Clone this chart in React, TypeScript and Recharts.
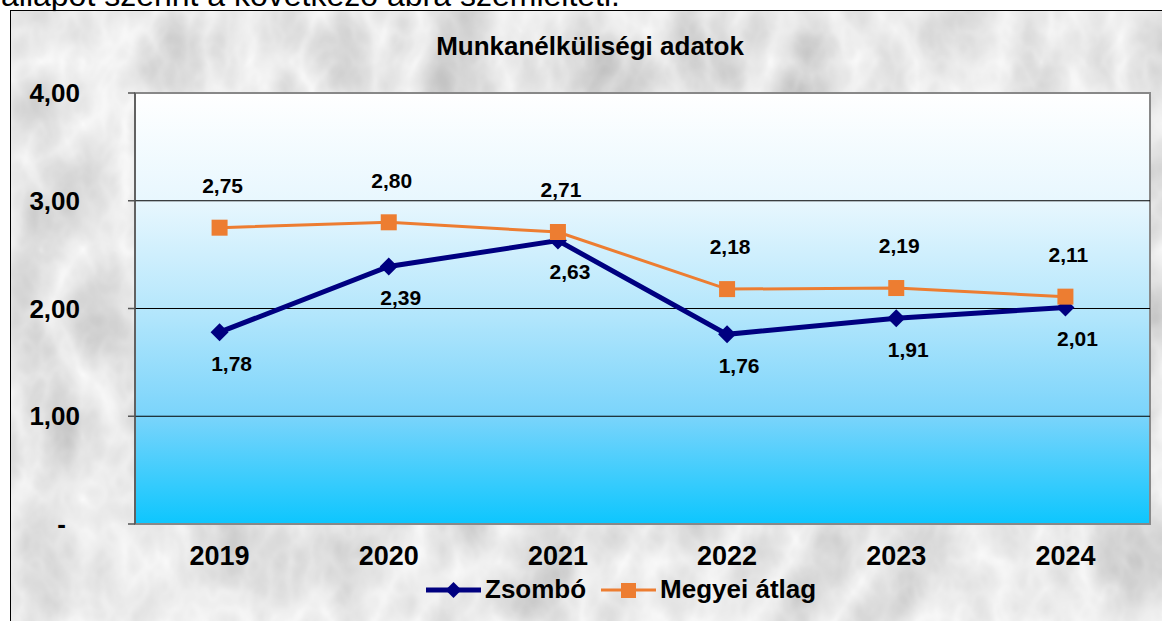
import React from 'react';
import {
  LineChart,
  Line,
  XAxis,
  YAxis,
  ReferenceArea,
  ReferenceLine,
  LabelList,
  Legend,
} from 'recharts';

const years = ['2019', '2020', '2021', '2022', '2023', '2024'];
const zsombo = [1.78, 2.39, 2.63, 1.76, 1.91, 2.01];
const megyei = [2.75, 2.8, 2.71, 2.18, 2.19, 2.11];
const yTicks = [0, 1, 2, 3, 4];
const gridValues = [1, 2, 3];
const seriesOrder = ['zsombo', 'megyei'];

const data = years.map((year, i) => ({
  pos: i + 0.5,
  year,
  zsombo: zsombo[i],
  megyei: megyei[i],
}));
const yearTicks = data.map((d) => d.pos);
const edgeTicks = Array.from({ length: years.length + 1 }, (_, i) => i);

const FONT = '"Liberation Sans", Arial, sans-serif';
const NAVY = '#000080';
const ORANGE = '#ED7D31';
const AXIS = '#555555';

const fmt = (v: number) => v.toFixed(2).replace('.', ',');

const YTick = (props: any) => {
  const { x, y, payload } = props;
  const v = payload.value as number;
  return (
    <text
      x={v === 0 ? x - 14 : x}
      y={y}
      dy="0.35em"
      textAnchor="end"
      fontFamily={FONT}
      fontWeight="bold"
      fontSize={26}
      fill="#000"
    >
      {v === 0 ? '-' : fmt(v)}
    </text>
  );
};

const XTick = (props: any) => {
  const { x, y, payload } = props;
  const idx = Math.floor(payload.value);
  return (
    <text
      x={x}
      y={y}
      dy="0.71em"
      textAnchor="middle"
      fontFamily={FONT}
      fontWeight="bold"
      fontSize={27}
      fill="#000"
    >
      {years[idx]}
    </text>
  );
};

const Diamond = (props: any) => {
  const { cx, cy } = props;
  if (cx == null || cy == null) return null;
  const r = 9;
  return (
    <polygon
      points={`${cx},${cy - r} ${cx + r},${cy} ${cx},${cy + r} ${cx - r},${cy}`}
      fill={NAVY}
    />
  );
};

const Square = (props: any) => {
  const { cx, cy } = props;
  if (cx == null || cy == null) return null;
  return <rect x={cx - 8} y={cy - 8} width={16} height={16} fill={ORANGE} />;
};

const makeLabel = (dx: number, dy: number) => (props: any) => {
  const { x, y, value } = props;
  if (x == null || y == null) return null;
  return (
    <text
      x={x + dx}
      y={y + dy}
      dy="0.35em"
      textAnchor="middle"
      fontFamily={FONT}
      fontWeight="bold"
      fontSize={21}
      fill="#000"
    >
      {fmt(value)}
    </text>
  );
};

const LegendContent = (props: any) => {
  const payload = [...(props.payload || [])].sort(
    (a: any, b: any) => seriesOrder.indexOf(a.dataKey) - seriesOrder.indexOf(b.dataKey)
  );
  return (
    <div
      style={{
        display: 'flex',
        alignItems: 'center',
        fontFamily: FONT,
        fontWeight: 'bold',
        fontSize: 26,
        color: '#000',
        whiteSpace: 'nowrap',
      }}
    >
      {payload.map((entry: any) => {
        const isNavy = entry.dataKey === 'zsombo';
        return (
          <div key={entry.value} style={{ display: 'flex', alignItems: 'center', marginRight: 15 }}>
            <svg width={55} height={22}>
              <line
                x1={0}
                y1={11}
                x2={55}
                y2={11}
                stroke={isNavy ? NAVY : ORANGE}
                strokeWidth={isNavy ? 5 : 3}
              />
              {isNavy ? (
                <polygon points="27.5,3 35.5,11 27.5,19 19.5,11" fill={NAVY} />
              ) : (
                <rect x={20} y={4} width={15} height={15} fill={ORANGE} />
              )}
            </svg>
            <span style={{ marginLeft: 4 }}>{entry.value}</span>
          </div>
        );
      })}
    </div>
  );
};

export default function App() {
  return (
    <div style={{ position: 'absolute', left: 0, top: 0, width: 1162, height: 621, overflow: 'hidden', background: '#fff' }}>
      <svg width={1162} height={621} style={{ position: 'absolute', left: 0, top: 0 }}>
        <defs>
          <filter id="marble" x="0" y="0" width="1" height="1">
            <feTurbulence type="turbulence" baseFrequency="0.012 0.008" numOctaves={4} seed={7} />
            <feColorMatrix
              type="matrix"
              values="-0.55 0 0 0 0.96  -0.55 0 0 0 0.96  -0.55 0 0 0 0.96  0 0 0 0 1"
            />
            <feGaussianBlur stdDeviation={1.2} />
          </filter>
        </defs>
        <text x={1} y={6} fontFamily={FONT} fontSize={32} fill="#000">
          állapot szerint a következő ábra szemlélteti.
        </text>
        <rect x={10} y={10} width={1162} height={621} filter="url(#marble)" />
        <rect x={10.5} y={10.5} width={1170} height={630} fill="none" stroke="#000" strokeWidth={1} />
        <text
          x={590}
          y={55}
          textAnchor="middle"
          fontFamily={FONT}
          fontWeight="bold"
          fontSize={26}
          fill="#000"
        >
          Munkanélküliségi adatok
        </text>
      </svg>
      <div style={{ position: 'absolute', left: 0, top: 0 }}>
        <LineChart width={1162} height={621} data={data} margin={{ top: 93, right: 12, left: 0, bottom: 0 }}>
          <defs>
            <linearGradient id="plotBg" x1="0" y1="0" x2="0" y2="1">
              <stop offset="0%" stopColor="#ffffff" />
              <stop offset="25%" stopColor="#e8f7fe" />
              <stop offset="50%" stopColor="#b6e7fc" />
              <stop offset="75%" stopColor="#7ad4fb" />
              <stop offset="100%" stopColor="#0dc6fe" />
            </linearGradient>
          </defs>
          <XAxis
            xAxisId="edge"
            type="number"
            dataKey="pos"
            domain={[0, years.length]}
            ticks={edgeTicks}
            height={0}
            axisLine={{ stroke: AXIS, strokeWidth: 1.5 }}
            tickLine={{ stroke: AXIS, strokeWidth: 1.5 }}
            tickSize={8}
            tickFormatter={() => ''}
          />
          <XAxis
            xAxisId="cat"
            type="number"
            dataKey="pos"
            domain={[0, years.length]}
            ticks={yearTicks}
            height={97}
            axisLine={false}
            tickLine={false}
            tickSize={0}
            tickMargin={22}
            tick={<XTick />}
          />
          <YAxis
            type="number"
            domain={[0, 4]}
            ticks={yTicks}
            width={135}
            axisLine={{ stroke: AXIS, strokeWidth: 1.5 }}
            tickLine={{ stroke: AXIS, strokeWidth: 1.5 }}
            tickSize={7}
            tickMargin={48}
            tick={<YTick />}
          />
          <ReferenceArea
            xAxisId="cat"
            x1={0}
            x2={years.length}
            y1={0}
            y2={4}
            fill="url(#plotBg)"
            fillOpacity={1}
            stroke="#888888"
            strokeWidth={2}
          />
          {gridValues.map((v) => (
            <ReferenceLine key={v} xAxisId="cat" y={v} stroke="#000" strokeWidth={1} />
          ))}
          <Line
            xAxisId="cat"
            name="Zsombó"
            dataKey="zsombo"
            stroke={NAVY}
            strokeWidth={5}
            dot={<Diamond />}
            activeDot={false}
            isAnimationActive={false}
          >
            <LabelList dataKey="zsombo" content={makeLabel(12, 31)} />
          </Line>
          <Line
            xAxisId="cat"
            name="Megyei átlag"
            dataKey="megyei"
            stroke={ORANGE}
            strokeWidth={3}
            dot={<Square />}
            activeDot={false}
            isAnimationActive={false}
          >
            <LabelList dataKey="megyei" content={makeLabel(3, -42)} />
          </Line>
          <Legend
            layout="vertical"
            align="center"
            verticalAlign="middle"
            content={<LegendContent />}
            wrapperStyle={{ position: 'absolute', top: 574, left: 426, width: 'auto' }}
          />
        </LineChart>
      </div>
    </div>
  );
}
